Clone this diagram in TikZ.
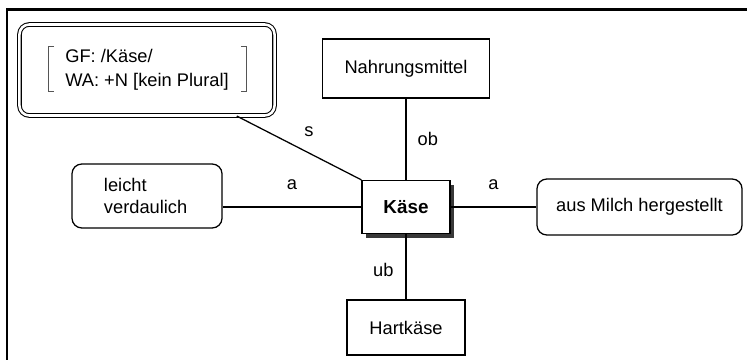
\documentclass[tikz,border=0pt]{standalone}
\usepackage{fontspec}
\setmainfont{Liberation Sans}
\usetikzlibrary{shadows}
\definecolor{schatten}{HTML}{383838}
\definecolor{klgrau}{HTML}{555555}
\tikzset{
  begriff/.style={draw,line width=0.9pt,inner sep=0pt,align=center},
  merkmal/.style={begriff,rounded corners=7pt},
  kern/.style={begriff,fill=white,font=\fontsize{13.4}{16}\selectfont\bfseries,drop shadow={shadow xshift=3pt,shadow yshift=-3pt,fill=schatten,opacity=1}},
  bedeutung/.style={draw,line width=0.75pt,double,double distance=1.8pt,rounded corners=7pt,inner sep=0pt,align=left},
  kante/.style={line width=0.9pt},
  rel/.style={inner sep=0pt},
  rahmen/.style={line width=2.1pt},
  klammer/.style={klgrau,line width=0.5pt},
}

\begin{document}
\begin{tikzpicture}[x=0.025cm,y=-0.025cm,font=\fontsize{13}{16}\selectfont]
  \useasboundingbox (0,0) rectangle (747,360);
  \draw[rahmen] (7,360)--(7,9.5)--(747,9.5);
  \node[bedeutung,minimum width=6.375cm,minimum height=2.275cm,font=\fontsize{13}{17}\selectfont] (bez) at (147,70) {GF: /Käse/\\WA: +N [kein Plural]};
  \draw[klammer] (54,46)--(48.5,46)--(48.5,91)--(54,91);
  \draw[klammer] (241,46)--(246.5,46)--(246.5,91)--(241,91);
  \node[begriff,minimum width=4.175cm,minimum height=1.475cm] (nahrung) at (406,68.5) {Nahrungsmittel};
  \node[kern,minimum width=2.2cm,minimum height=1.325cm] (kaese) at (406,207) {Käse};
  \node[merkmal,minimum width=3.75cm,minimum height=1.6cm,align=left,text width=2.15cm,inner xsep=0.8cm] (leicht) at (147,196) {leicht\\verdaulich};
  \node[merkmal,minimum width=5.125cm,minimum height=1.4cm] (milch) at (639.5,207) {aus Milch hergestellt};
  \node[begriff,minimum width=2.95cm,minimum height=1.375cm] (hart) at (406,327.5) {Hartkäse};
  \draw[kante] (bez)--(kaese.north west) node[rel,pos=0.58,above=11.5pt]{s};
  \draw[kante] (nahrung)--(kaese) node[rel,midway,right=7.8pt]{ob};
  \draw[kante] (kaese.west)--(kaese.west -| leicht.east) node[rel,midway,above=12pt]{a};
  \draw[kante] (kaese)--(milch) node[rel,midway,above=12pt]{a};
  \draw[kante] (kaese)--(hart) node[rel,pos=0.55,left=8.5pt]{ub};
\end{tikzpicture}
\end{document}
